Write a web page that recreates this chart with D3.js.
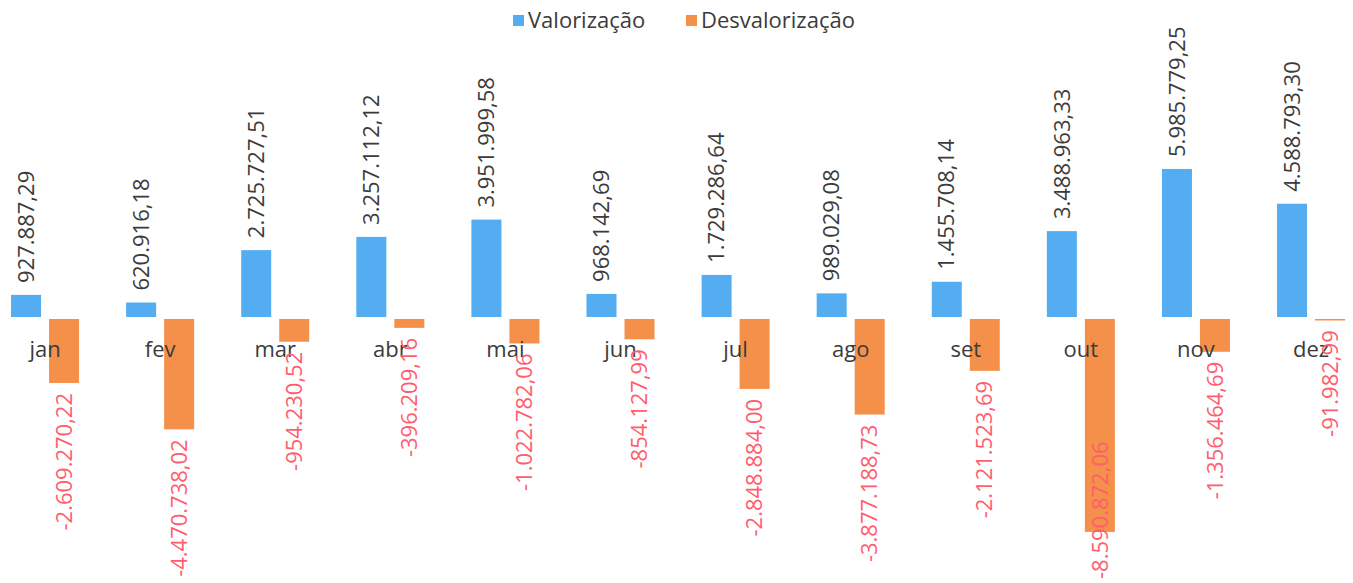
<!DOCTYPE html>
<html>
<head>
<meta charset="utf-8">
<script src="https://cdn.jsdelivr.net/npm/d3@7"></script>
<style>
  html, body { margin: 0; padding: 0; background: #fff; }
  svg { display: block; font-family: "Open Sans", sans-serif; }
</style>
</head>
<body>
<div id="chart"></div>
<script>
// data
let months = ["jan", "fev", "mar", "abr", "mai", "jun", "jul", "ago", "set", "out", "nov", "dez"];
let valorizacao = [927887.29, 620916.18, 2725727.51, 3257112.12, 3951999.58, 968142.69,
    1729286.64, 989029.08, 1455708.14, 3488963.33, 5985779.25, 4588793.30];
let desvalorizacao = [-2609270.22, -4470738.02, -954230.52, -396209.16, -1022782.06, -854127.99,
    -2848884.00, -3877188.73, -2121523.69, -8590872.06, -1356464.69, -91982.99];
let seriesNames = ["Valorização", "Desvalorização"];
let seriesColors = ["#53adf0", "#f5904a"];
let labelColors = ["#3b3b3b", "#ff5d6e"];

let width = 1353, height = 583;

let ptBR = d3.formatLocale({decimal: ",", thousands: ".", grouping: [3], currency: ["R$", ""], minus: "-"});
let fmt = ptBR.format(",.2f");

let svg = d3.select("#chart").append("svg")
    .attr("width", width)
    .attr("height", height);

// scales
let x = d3.scaleBand()
    .domain(months)
    .range([-12.5, 1368.6])
    .paddingInner(0.409)
    .paddingOuter(0.2045);

let x1 = d3.scaleBand()
    .domain([0, 1])
    .range([0, x.bandwidth()])
    .paddingInner(0.2105);

let y = d3.scaleLinear()
    .domain([-9e6, 6e6])
    .range([542.1, 168.6]);

let rows = months.map(function(m, i) {
    return {month: m, values: [valorizacao[i], desvalorizacao[i]]};
});

// bars
let groups = svg.append("g")
    .selectAll("g")
    .data(rows)
    .enter().append("g")
    .attr("transform", function(d) { return "translate(" + x(d.month) + ",0)"; });

groups.selectAll("rect")
    .data(function(d) { return d.values.map(function(v, k) { return {k: k, v: v}; }); })
    .enter().append("rect")
    .attr("x", function(d) { return x1(d.k); })
    .attr("y", function(d) { return d.v >= 0 ? y(d.v) : y(0) + 1; })
    .attr("width", x1.bandwidth())
    .attr("height", function(d) { return Math.max(1.5, Math.abs(y(d.v) - y(0)) - 1); })
    .attr("fill", function(d) { return seriesColors[d.k]; });

// month labels sit on the zero line
svg.append("g")
    .selectAll("text")
    .data(months)
    .enter().append("text")
    .attr("x", function(d) { return x(d) + x.bandwidth() / 2; })
    .attr("y", 357)
    .attr("text-anchor", "middle")
    .attr("font-size", "22px")
    .attr("fill", "#3b3b3b")
    .text(function(d) { return d; });

// value labels, rotated
let labels = svg.append("g");
rows.forEach(function(r) {
    r.values.forEach(function(v, k) {
        let cx = x(r.month) + x1(k) + x1.bandwidth() / 2;
        let t = labels.append("text")
            .attr("font-size", "22px")
            .attr("fill", labelColors[k])
            .attr("dy", "0.35em")
            .text(fmt(v));
        if (v >= 0) {
            let ty = y(v) - 12;
            t.attr("text-anchor", "start")
                .attr("transform", "translate(" + cx + "," + ty + ") rotate(-90)");
        } else {
            let len = t.node().getComputedTextLength();
            let ty = y(v) + 10 + len;
            if (ty > height - 4) ty = height - 4;
            t.attr("text-anchor", "start")
                .attr("transform", "translate(" + cx + "," + ty + ") rotate(-90)");
        }
    });
});

// legend
let legend = svg.append("g")
    .selectAll("g")
    .data(seriesNames)
    .enter().append("g")
    .attr("transform", function(d, i) { return "translate(" + (i === 0 ? 513 : 686) + ",0)"; });

legend.append("rect")
    .attr("y", 15)
    .attr("width", 11)
    .attr("height", 11)
    .attr("fill", function(d, i) { return seriesColors[i]; });

legend.append("text")
    .attr("x", 15)
    .attr("y", 28)
    .attr("font-size", "22px")
    .attr("fill", "#3b3b3b")
    .text(function(d) { return d; });
</script>
</body>
</html>
